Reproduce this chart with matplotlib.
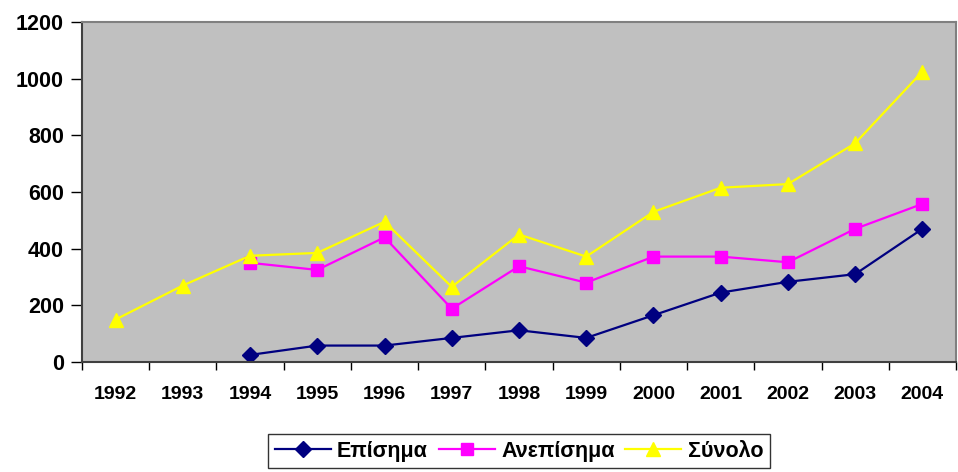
import matplotlib
matplotlib.use('Agg')
import matplotlib.pyplot as plt
import numpy as np

plt.rcParams['font.family'] = ['Liberation Sans', 'DejaVu Sans']
plt.rcParams['font.weight'] = 'bold'

years = ['1992', '1993', '1994', '1995', '1996', '1997', '1998',
         '1999', '2000', '2001', '2002', '2003', '2004']
episima = [None, None, 25, 58, 58, 85, 112, 85, 165, 245, 283, 310, 470]
anepisima = [None, None, 350, 325, 440, 188, 338, 280, 372, 372, 352, 470, 558]
synolo = [150, 270, 375, 385, 495, 265, 450, 372, 530, 615, 628, 772, 1025]

def arr(v):
    return np.array([np.nan if a is None else a for a in v], dtype=float)

x = np.arange(len(years))

fig = plt.figure(figsize=(9.58, 4.72), dpi=100)
ax = fig.add_axes([82/958, 1-362/472, (956-82)/958, 340/472])
ax.set_facecolor('#c0c0c0')

ax.plot(x, arr(episima), color='#000080', lw=1.6, marker='D', ms=8, label='Επίσημα')
ax.plot(x, arr(anepisima), color='#ff00ff', lw=1.6, marker='s', ms=8, label='Ανεπίσημα')
ax.plot(x, arr(synolo), color='#ffff00', lw=1.6, marker='^', ms=10, label='Σύνολο')

ax.set_xlim(-0.5, len(years) - 0.5)
ax.set_ylim(0, 1200)
ax.set_yticks(range(0, 1201, 200))
ax.tick_params(axis='y', length=8, width=1, labelsize=15.5, pad=5)

# ticks between categories, labels centred
ax.set_xticks(np.arange(len(years) + 1) - 0.5)
ax.set_xticklabels([])
ax.set_xticks(x, minor=True)
ax.set_xticklabels(years, minor=True)
ax.tick_params(axis='x', which='major', length=6, width=1)
ax.tick_params(axis='x', which='minor', length=0, labelsize=14, pad=17)

for s in ['left', 'bottom']:
    ax.spines[s].set_color('#404040')
    ax.spines[s].set_linewidth(1.5)
for s in ['top', 'right']:
    ax.spines[s].set_color('#808080')
    ax.spines[s].set_linewidth(1.5)

leg = ax.legend(loc='upper center', bbox_to_anchor=(0.5, -0.212), ncol=3,
                frameon=True, fancybox=False, edgecolor='black',
                prop={'size': 15.5, 'weight': 'bold'}, handlelength=2.6,
                columnspacing=0.5, handletextpad=0.3, borderpad=0.3,
                borderaxespad=0)
leg.get_frame().set_linewidth(1)

fig.savefig('out.png', dpi=100)
